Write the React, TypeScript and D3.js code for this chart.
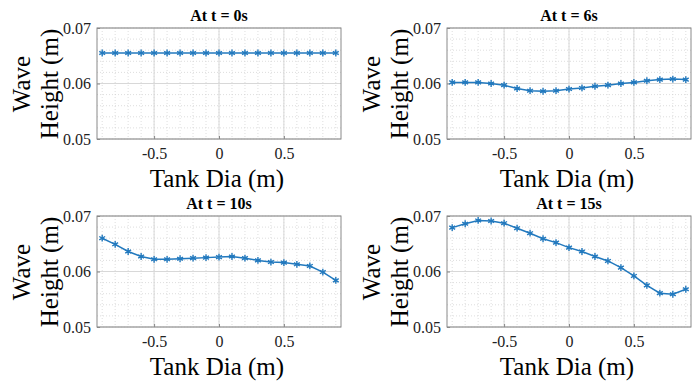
import React, { useEffect, useRef } from 'react'
import * as d3 from 'd3'

const positions = [-0.9, -0.8, -0.7, -0.6, -0.5, -0.4, -0.3, -0.2, -0.1, 0, 0.1, 0.2, 0.3, 0.4, 0.5, 0.6, 0.7, 0.8, 0.9]
const titles = ['At t = 0s', 'At t = 6s', 'At t = 10s', 'At t = 15s']
const heightT0 = [0.0655, 0.0655, 0.0655, 0.0655, 0.0655, 0.0655, 0.0655, 0.0655, 0.0655, 0.0655, 0.0655, 0.0655, 0.0655, 0.0655, 0.0655, 0.0655, 0.0655, 0.0655, 0.0655]
const heightT6 = [0.0602, 0.0602, 0.0602, 0.0600, 0.0597, 0.0591, 0.0587, 0.0586, 0.0587, 0.0590, 0.0592, 0.0595, 0.0597, 0.0600, 0.0602, 0.0605, 0.0607, 0.0608, 0.0607]
const heightT10 = [0.0660, 0.0649, 0.0636, 0.0627, 0.0622, 0.0622, 0.0623, 0.0624, 0.0625, 0.0626, 0.0627, 0.0624, 0.0620, 0.0617, 0.0616, 0.0613, 0.0610, 0.0599, 0.0584]
const heightT15 = [0.0679, 0.0686, 0.0692, 0.0691, 0.0687, 0.0678, 0.0669, 0.0659, 0.0652, 0.0643, 0.0636, 0.0627, 0.0619, 0.0607, 0.0592, 0.0575, 0.0561, 0.0559, 0.0568]
const xTicks = [-0.5, 0, 0.5]
const yTicks = [0.05, 0.06, 0.07]

const series = [heightT0, heightT6, heightT10, heightT15]
const offsets = [[0, 0], [350, 0], [0, 188], [350, 188]]

const App = () => {
  const svgRef = useRef<SVGSVGElement>(null)

  useEffect(() => {
    const svg = d3.select(svgRef.current)
    svg.selectAll('*').remove()
    const font = '"Liberation Serif", "Times New Roman", serif'
    const lineColor = '#2279be'

    const x = d3.scaleLinear().domain([-0.94, 0.94]).range([97, 341])
    const y = d3.scaleLinear().domain([0.05, 0.07]).range([139, 28])
    const minorX = d3.range(-9, 10).map(i => i / 10)
    const minorY = d3.range(0, 11).map(i => 0.05 + i * 0.002)

    series.forEach((vals, i) => {
      const [ox, oy] = offsets[i]
      const g = svg.append('g').attr('transform', `translate(${ox},${oy})`)

      // minor grid
      g.selectAll()
        .data(minorX)
        .join('line')
        .attr('x1', d => x(d)).attr('x2', d => x(d))
        .attr('y1', 28).attr('y2', 139)
        .style('stroke', '#d0d0d0').style('stroke-width', 0.7)
        .style('stroke-dasharray', '1,2')
      g.selectAll()
        .data(minorY)
        .join('line')
        .attr('y1', d => y(d)).attr('y2', d => y(d))
        .attr('x1', 97).attr('x2', 341)
        .style('stroke', '#d0d0d0').style('stroke-width', 0.7)
        .style('stroke-dasharray', '1,2')

      // major grid
      g.selectAll()
        .data(xTicks)
        .join('line')
        .attr('x1', d => x(d)).attr('x2', d => x(d))
        .attr('y1', 28).attr('y2', 139)
        .style('stroke', '#d8d8d8').style('stroke-width', 1)
      g.selectAll()
        .data(yTicks)
        .join('line')
        .attr('y1', d => y(d)).attr('y2', d => y(d))
        .attr('x1', 97).attr('x2', 341)
        .style('stroke', '#d8d8d8').style('stroke-width', 1)

      // axes
      const xAxis = g.append('g').attr('transform', 'translate(0,139)')
        .call(d3.axisBottom(x).tickValues(xTicks).tickSize(-3).tickPadding(9).tickFormat(d => (d as number) < 0 ? '-' + Math.abs(d as number) : String(d)))
      const yAxis = g.append('g').attr('transform', 'translate(97,0)')
        .call(d3.axisLeft(y).tickValues(yTicks).tickSize(-3).tickPadding(6).tickFormat(d3.format('.2f')))
      ;[xAxis, yAxis].forEach(a => {
        a.attr('font-family', font).attr('font-size', 16)
        a.select('.domain').remove()
        a.selectAll('line').style('stroke', '#888')
        a.selectAll('text').attr('font-family', font).style('font-family', font).style('font-size', '16px').style('fill', '#222')
      })

      g.append('rect')
        .attr('x', 97).attr('y', 28).attr('width', 244).attr('height', 111)
        .style('fill', 'none').style('stroke', '#8a8a8a').style('stroke-width', 1)

      // line + markers
      const line = d3.line<number>().x((_, j) => x(positions[j])).y(d => y(d))
      g.append('path')
        .attr('d', line(vals))
        .style('fill', 'none').style('stroke', lineColor).style('stroke-width', 1.5)
      const marker = d3.symbol(d3.symbolAsterisk, 32)
      g.selectAll()
        .data(vals)
        .join('path')
        .attr('d', marker)
        .attr('transform', (d, j) => `translate(${x(positions[j])},${y(d)})`)
        .style('fill', 'none').style('stroke', lineColor).style('stroke-width', 1.4)

      // title
      g.append('text')
        .attr('x', 219).attr('y', 21)
        .attr('text-anchor', 'middle')
        .style('font-family', font).style('font-weight', 'bold').style('font-size', '16px')
        .text(titles[i])

      // x label
      g.append('text')
        .attr('x', 217).attr('y', 187)
        .attr('text-anchor', 'middle')
        .style('font-family', font).style('font-size', '25px')
        .text('Tank Dia (m)')

      // y label
      const yl = g.append('text')
        .attr('transform', 'translate(0,84) rotate(-90)')
        .attr('text-anchor', 'middle')
        .style('font-family', font).style('font-size', '25px')
      yl.append('tspan').attr('x', 0).attr('y', 30).text('Wave')
      yl.append('tspan').attr('x', 0).attr('y', 58).text('Height (m)')
    })
  }, [])

  return (
    <svg ref={svgRef} width={700} height={382}
      style={{ position: 'absolute', left: 0, top: 0, background: '#fff' }} />
  )
}

export default App
